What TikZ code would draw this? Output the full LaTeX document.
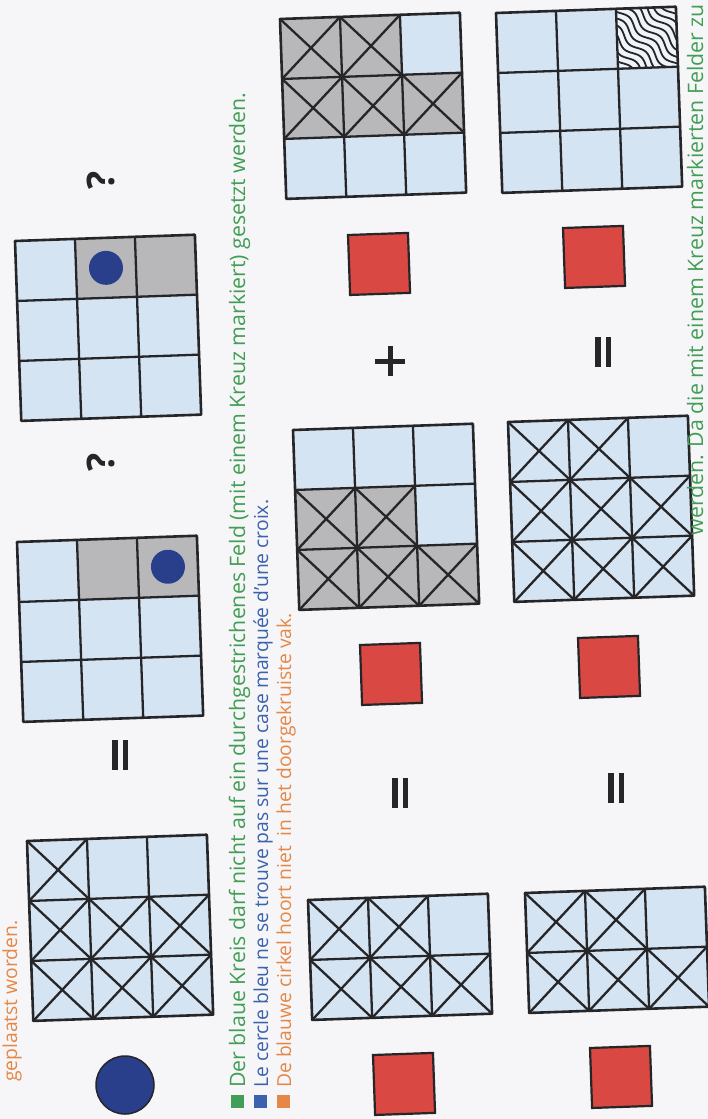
\documentclass[tikz,border=0pt]{standalone}
\usepackage{fontspec}
\setmainfont{Open Sans}
\definecolor{paper}{RGB}{246,246,248}
\definecolor{cellblue}{RGB}{213,228,243}
\definecolor{cellgray}{RGB}{184,184,186}
\definecolor{ink}{RGB}{38,38,40}
\definecolor{sqred}{RGB}{217,72,66}
\definecolor{dotblue}{RGB}{42,63,140}
\definecolor{tgreen}{RGB}{66,158,84}
\definecolor{tblue}{RGB}{58,98,173}
\definecolor{torange}{RGB}{229,135,70}
\tikzset{
  gline/.style={draw=ink,line width=2.3pt,line cap=round},
  outer/.style={draw=ink,line width=2.6pt,line join=round},
  redsq/.style={fill=sqred,draw=ink,line width=2.2pt},
  txt/.style={font=\fontsize{19.3}{23}\selectfont,inner sep=0pt,rotate=90,anchor=base west},
  gtxt/.style={txt,font=\fontsize{21.3}{25}\selectfont,text=tgreen},
  qmark/.style={font=\fontsize{38}{44}\selectfont\bfseries,text=ink,rotate=90,inner sep=0pt},
  symb/.style={fill=ink},
}
\newcommand\gcell[2]{\fill[cellgray] ({#1*60},{#2*60}) rectangle ++(60,60);}
\newcommand\xcell[2]{\draw[gline] ({#1*60},{#2*60}) -- ++(60,60) ({#1*60+60},{#2*60}) -- ++(-60,60);}
\newcommand\gridbase[1]{\fill[cellblue] (0,0) rectangle (180,{#1*60});}
\newcommand\gridtop[1]{%
  \draw[gline] (60,0) -- (60,{#1*60}) (120,0) -- (120,{#1*60}) (0,60) -- (180,60);
  \ifnum#1>2 \draw[gline] (0,120) -- (180,120);\fi
  \draw[outer] (0,0) rectangle (180,{#1*60});}
\newcommand\eqsign[2]{\fill[symb] ({#1-8},{#2-15}) rectangle ++(5.5,30);
  \fill[symb] ({#1+2.5},{#2-15}) rectangle ++(5.5,30);}
\begin{document}
\begin{tikzpicture}[x=1pt,y=-1pt]
\useasboundingbox (0,0) rectangle (708,1119);
\fill[paper] (0,0) rectangle (708,1119);
\clip (0,0) rectangle (708,1119);

% ---------- column 1 ----------
\node[txt,text=torange] (tl) at (17,1082) {geplaatst worden.};
\fill[dotblue,draw=ink,line width=1.5pt] (125,1085) circle[radius=29pt];

% grid 1
\begin{scope}[shift={(27,841)},rotate=2]
\gridbase{3}
\xcell{0}{0}
\xcell{0}{1}\xcell{1}{1}\xcell{2}{1}
\xcell{0}{2}\xcell{1}{2}\xcell{2}{2}
\gridtop{3}
\end{scope}
\eqsign{120}{755}

% grid 2
\begin{scope}[shift={(17,542)},rotate=2]
\gridbase{3}
\gcell{1}{0}\gcell{2}{0}
\fill[dotblue] (150,30) circle[radius=17pt];
\gridtop{3}
\end{scope}
\node[qmark] (q1) at (101,462) {?};

% grid 3
\begin{scope}[shift={(15,241)},rotate=2]
\gridbase{3}
\gcell{1}{0}\gcell{2}{0}
\fill[dotblue] (90,30) circle[radius=17pt];
\gridtop{3}
\end{scope}
\node[qmark] (q2) at (101,180) {?};

% ---------- text lines ----------
\fill[tgreen] (231,1095) rectangle (244,1108);
\fill[tblue] (254,1095) rectangle (267,1108);
\fill[torange] (277,1095) rectangle (290,1108);
\node[gtxt] (t1) at (245,1088) {Der blaue Kreis darf nicht auf ein durchgestrichenes Feld (mit einem Kreuz markiert) gesetzt werden.};
\node[txt,text=tblue] (t2) at (268,1088) {Le cercle bleu ne se trouve pas sur une case marquée d'une croix.};
\node[txt,text=torange] (t3) at (291,1088) {De blauwe cirkel hoort niet\ \ in het doorgekruiste vak.};

% ---------- column 3 ----------
\begin{scope}[shift={(280,19)},rotate=2]
\gridbase{3}
\gcell{0}{0}\gcell{1}{0}
\gcell{0}{1}\gcell{1}{1}\gcell{2}{1}
\xcell{0}{0}\xcell{1}{0}
\xcell{0}{1}\xcell{1}{1}\xcell{2}{1}
\gridtop{3}
\end{scope}
\begin{scope}[shift={(348,235)},rotate=2]
\draw[redsq] (0,0) rectangle (60,60);
\end{scope}
\fill[symb] (375,358.5) rectangle (405,363.5);
\fill[symb] (387.5,346) rectangle (392.5,376);

\begin{scope}[shift={(293,430)},rotate=2]
\gridbase{3}
\gcell{0}{1}\gcell{1}{1}
\gcell{0}{2}\gcell{1}{2}\gcell{2}{2}
\xcell{0}{1}\xcell{1}{1}
\xcell{0}{2}\xcell{1}{2}\xcell{2}{2}
\gridtop{3}
\end{scope}
\begin{scope}[shift={(360,645)},rotate=2]
\draw[redsq] (0,0) rectangle (60,60);
\end{scope}
\eqsign{400}{793}

\begin{scope}[shift={(308,900)},rotate=2]
\gridbase{2}
\xcell{0}{0}\xcell{1}{0}
\xcell{0}{1}\xcell{1}{1}\xcell{2}{1}
\gridtop{2}
\end{scope}
\begin{scope}[shift={(373,1055)},rotate=2]
\draw[redsq] (0,0) rectangle (60,60);
\end{scope}

% ---------- column 4 ----------
\begin{scope}[shift={(496,13)},rotate=2]
\gridbase{3}
\begin{scope}
\clip (120,0) rectangle (180,60);
\fill[white!60!cellblue] (120,0) rectangle (180,60);
\foreach \o in {-84,-77,...,84}
  \draw[ink,line width=1.8pt] plot[domain=-50:50,samples=40,smooth]
    ({150+0.707*\x+0.707*(\o+3*sin(\x*10))},{30+0.707*\x-0.707*(\o+3*sin(\x*10))});
\end{scope}
\gridtop{3}
\end{scope}
\begin{scope}[shift={(563,228)},rotate=2]
\draw[redsq] (0,0) rectangle (60,60);
\end{scope}
\eqsign{603}{352}

\begin{scope}[shift={(508,422)},rotate=2]
\gridbase{3}
\xcell{0}{0}\xcell{1}{0}
\xcell{0}{1}\xcell{1}{1}\xcell{2}{1}
\xcell{0}{2}\xcell{1}{2}\xcell{2}{2}
\gridtop{3}
\end{scope}
\begin{scope}[shift={(578,638)},rotate=2]
\draw[redsq] (0,0) rectangle (60,60);
\end{scope}
\eqsign{616}{788}

\begin{scope}[shift={(525,893)},rotate=2]
\gridbase{2}
\xcell{0}{0}\xcell{1}{0}
\xcell{0}{1}\xcell{1}{1}\xcell{2}{1}
\gridtop{2}
\end{scope}
\begin{scope}[shift={(590,1048)},rotate=2]
\draw[redsq] (0,0) rectangle (60,60);
\end{scope}

\node[gtxt,anchor=base east] (br) at (703,4) {werden. Da die mit einem Kreuz markierten Felder zu};
\end{tikzpicture}
\end{document}
